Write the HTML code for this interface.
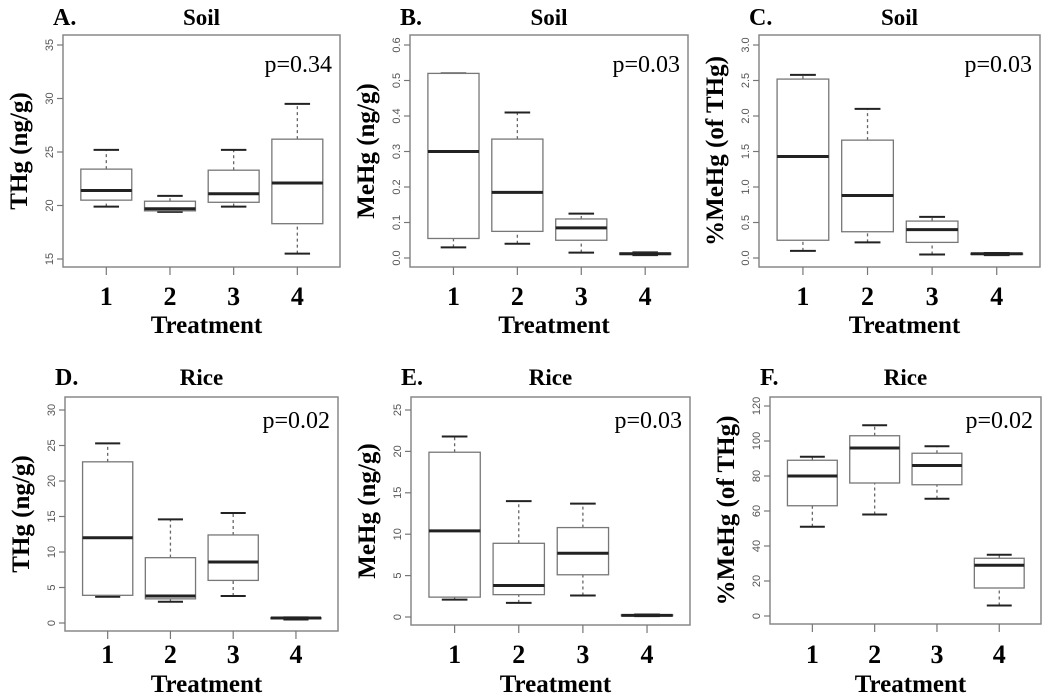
<!DOCTYPE html>
<html><head><meta charset="utf-8"><style>
body{margin:0;background:#fff}
svg{display:block;font-family:"Liberation Serif",serif}
</style></head><body>
<svg id="fig" width="1050" height="695" viewBox="0 0 1050 695"></svg>
<script>
const categories=["1","2","3","4"];
// five-number summaries [min,q1,median,q3,max]
const soilTHg=[[19.9,20.5,21.4,23.4,25.2],[19.4,19.5,19.7,20.4,20.9],[19.9,20.3,21.1,23.3,25.2],[15.5,18.3,22.1,26.2,29.5]];
const soilMeHg=[[0.03,0.055,0.30,0.52,0.52],[0.04,0.075,0.185,0.335,0.41],[0.015,0.05,0.085,0.11,0.125],[0.008,0.01,0.012,0.014,0.016]];
const soilPct=[[0.1,0.25,1.43,2.52,2.58],[0.22,0.37,0.88,1.66,2.1],[0.05,0.22,0.4,0.52,0.58],[0.04,0.05,0.06,0.065,0.07]];
const riceTHg=[[3.7,3.9,12,22.7,25.3],[3.0,3.4,3.8,9.2,14.6],[3.8,6.0,8.6,12.4,15.5],[0.5,0.6,0.7,0.75,0.8]];
const riceMeHg=[[2.1,2.4,10.4,19.9,21.8],[1.7,2.7,3.8,8.9,14.0],[2.6,5.1,7.7,10.8,13.7],[0.1,0.15,0.2,0.25,0.3]];
const ricePct=[[51,63,80,89,91],[58,76,96,103,109],[67,75,86,93,97],[6,16,29,33,35]];
const ticksA=[15,20,25,30,35], ticksB=[0,0.1,0.2,0.3,0.4,0.5,0.6], ticksC=[0,0.5,1.0,1.5,2.0,2.5,3.0];
const ticksD=[0,5,10,15,20,25,30], ticksE=[0,5,10,15,20,25], ticksF=[0,20,40,60,80,100,120];
const tickLabelsC=["0.0","0.5","1.0","1.5","2.0","2.5","3.0"];
const tickLabelsB=["0.0","0.1","0.2","0.3","0.4","0.5","0.6"];
const pvals=["p=0.34","p=0.03","p=0.03","p=0.02","p=0.03","p=0.02"];

const panels=[
 {id:"a",letter:"A.",title:"Soil",ylab:"THg (ng/g)",data:soilTHg,ticks:ticksA,labels:ticksA.map(String),x0:63,x1:340,y0:35,y1:267,tb:259,tt:45,row:0},
 {id:"b",letter:"B.",title:"Soil",ylab:"MeHg (ng/g)",data:soilMeHg,ticks:ticksB,labels:tickLabelsB,x0:410,x1:688,y0:35,y1:267,tb:258,tt:45,row:0},
 {id:"c",letter:"C.",title:"Soil",ylab:"%MeHg (of THg)",data:soilPct,ticks:ticksC,labels:tickLabelsC,x0:759,x1:1040,y0:35,y1:267,tb:258,tt:45,row:0},
 {id:"d",letter:"D.",title:"Rice",ylab:"THg (ng/g)",data:riceTHg,ticks:ticksD,labels:ticksD.map(String),x0:65,x1:338,y0:397,y1:631,tb:623,tt:410,row:1},
 {id:"e",letter:"E.",title:"Rice",ylab:"MeHg (ng/g)",data:riceMeHg,ticks:ticksE,labels:ticksE.map(String),x0:411,x1:690,y0:397,y1:625,tb:617,tt:410,row:1},
 {id:"f",letter:"F.",title:"Rice",ylab:"%MeHg (of THg)",data:ricePct,ticks:ticksF,labels:ticksF.map(String),x0:770,x1:1041,y0:397,y1:624,tb:616,tt:406,row:1}
];
const NS="http://www.w3.org/2000/svg";
const svg=document.getElementById("fig");
function mk(tag,attrs,parent,text){const e=document.createElementNS(NS,tag);for(const k in attrs)e.setAttribute(k,attrs[k]);if(text!==undefined)e.textContent=text;parent.appendChild(e);return e;}
panels.forEach((p,pi)=>{
 const g=mk("g",{},svg);
 
 
 const tmin=p.ticks[0],tmax=p.ticks[p.ticks.length-1];
 const y=v=>p.tb+(v-tmin)/(tmax-tmin)*(p.tt-p.tb);
 const w=p.x1-p.x0, step=w/4.35, xs=i=>p.x0+step*(0.68+i);
 const bw=step*0.8;
 const cx=(p.x0+p.x1)/2;
 const ty=p.row?385:25;
 const lt=mk("text",{x:p.x0-10,y:ty,"font-size":24,"font-weight":"bold"},g,p.letter);
 
 
 const tt=mk("text",{x:cx,y:ty,"font-size":23,"font-weight":"bold","text-anchor":"middle"},g,p.title);
 
 
 const fr=mk("rect",{x:p.x0,y:p.y0,width:w,height:p.y1-p.y0,fill:"none",stroke:"#888","stroke-width":1.5},g);
 
 
 const ax=p.x0;
 p.ticks.forEach((t,i)=>{
  mk("line",{x1:ax-6,x2:ax,y1:y(t),y2:y(t),stroke:"#777","stroke-width":1.2},g);
  const tl=mk("text",{x:0,y:0,"font-size":11,fill:"#555","font-family":"Liberation Sans, sans-serif","text-anchor":"middle",transform:`translate(${ax-10},${y(t)}) rotate(-90)`},g,p.labels[i]);
  
  
 });
 const yl=mk("text",{x:0,y:0,"font-size":25,"font-weight":"bold","text-anchor":"middle",transform:`translate(${p.x0-36},${(p.y0+p.y1)/2}) rotate(-90)`},g,p.ylab);
 
 
 const axY=p.y1;
 categories.forEach((c,i)=>{
  mk("line",{x1:xs(i),x2:xs(i),y1:axY,y2:axY+8,stroke:"#777","stroke-width":1.2},g);
  const xl=mk("text",{x:xs(i),y:p.row?663:305,"font-size":26,"font-weight":"bold","text-anchor":"middle"},g,c);
  
  
 });
 const xt=mk("text",{x:cx+5,y:p.row?692:333,"font-size":25,"font-weight":"bold","text-anchor":"middle"},g,"Treatment");
 
 
 const pv=mk("text",{x:p.x1-8,y:p.row?428:72,"font-size":24,"text-anchor":"end"},g,pvals[pi]);
 
 
 p.data.forEach((d,i)=>{
  const bx=mk("g",{},g);
  
  
  const X=xs(i);
  mk("line",{x1:X,x2:X,y1:y(d[0]),y2:y(d[1]),stroke:"#666","stroke-dasharray":"3,3","stroke-width":1.3},bx);
  mk("line",{x1:X,x2:X,y1:y(d[3]),y2:y(d[4]),stroke:"#666","stroke-dasharray":"3,3","stroke-width":1.3},bx);
  mk("line",{x1:X-bw/4,x2:X+bw/4,y1:y(d[0]),y2:y(d[0]),stroke:"#222","stroke-width":2},bx);
  mk("line",{x1:X-bw/4,x2:X+bw/4,y1:y(d[4]),y2:y(d[4]),stroke:"#222","stroke-width":2},bx);
  mk("rect",{x:X-bw/2,y:y(d[3]),width:bw,height:Math.max(0.5,y(d[1])-y(d[3])),fill:"#fff",stroke:"#777","stroke-width":1.3},bx);
  mk("line",{x1:X-bw/2,x2:X+bw/2,y1:y(d[2]),y2:y(d[2]),stroke:"#222","stroke-width":3},bx);
 });
});
</script>
</body></html>
